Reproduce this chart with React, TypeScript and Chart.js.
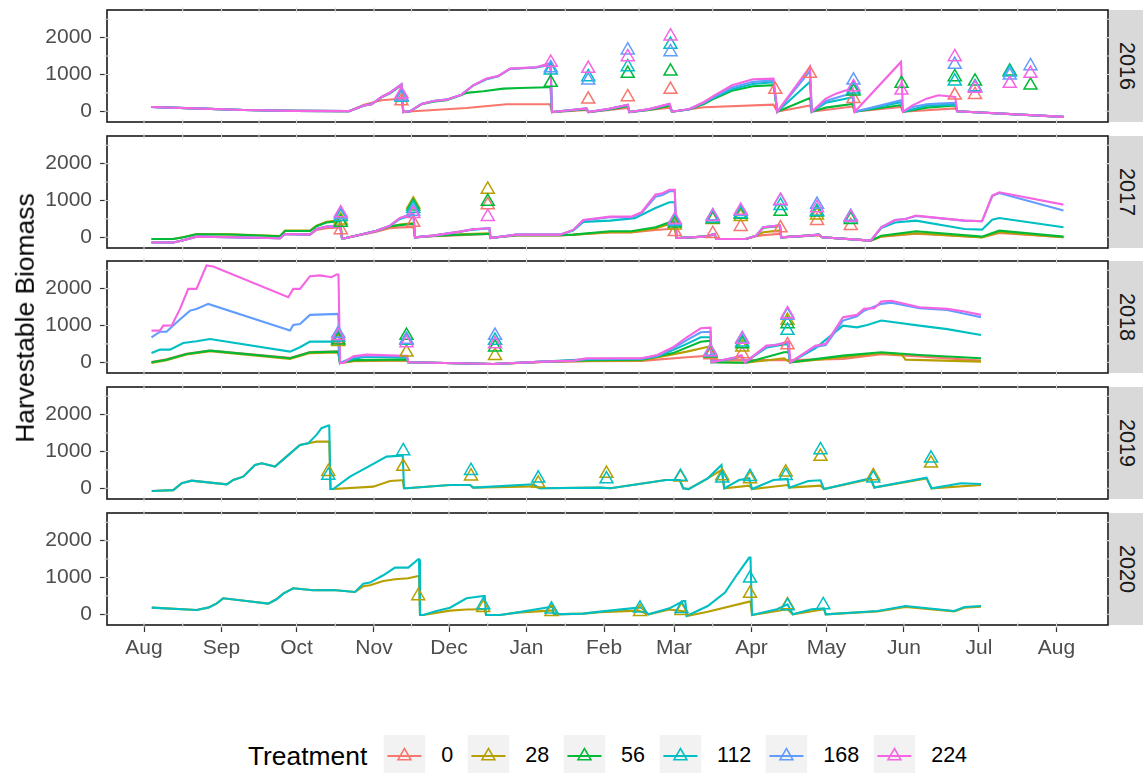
import React, { useEffect, useRef } from 'react';
import { Chart, registerables } from 'chart.js';
Chart.register(...registerables);

const FONT = '"Liberation Sans", Arial, Helvetica, sans-serif';

const treatments = ['0', '28', '56', '112', '168', '224'];
const colors = ['#F8766D', '#B79F00', '#00BA38', '#00BFC4', '#619CFF', '#F564E3'];
const years = ['2016', '2017', '2018', '2019', '2020'];
const monthDays = [0, 31, 61, 92, 122, 153, 184, 212, 243, 273, 304, 334, 365];
const monthLabels = ['Aug', 'Sep', 'Oct', 'Nov', 'Dec', 'Jan', 'Feb', 'Mar', 'Apr', 'May', 'Jun', 'Jul', 'Aug'];
const yTicks = [0, 1000, 2000];

// ---------- 2016 lines (day since Aug 1, biomass) ----------
const line2016_0 = [[3,118],[20,80],[40,35],[60,12],[82,5],[88,180],[95,300],[102.4,340],[103,360],[103.7,-20],[107.7,0],[129,90],[145,190],[162.4,190],[163.2,-20],[177,40],[177.8,-20],[193.5,90],[194.2,-20],[210.2,100],[211.2,-10],[224,110],[251.8,180],[253.3,-10],[266.4,160],[267.1,-10],[283.5,130],[284.3,-10],[302.8,120],[303.6,-10],[324.5,80],[325.3,0],[367.8,-150]];
const line2016_56 = [[3,118],[20,80],[40,35],[60,12],[82,5],[88,160],[91,190],[95,380],[98.4,490],[102.4,680],[103,700],[103.7,-20],[106.4,0],[111,190],[115.7,260],[121,300],[127,440],[129,500],[135.7,545],[143.7,616],[150.4,634],[161.7,652],[162.6,655],[163.2,-20],[170,20],[177,60],[177.8,-20],[186,50],[193.5,140],[194.2,-20],[202,40],[210.2,150],[211.2,-10],[218,50],[224,200],[228.2,350],[235.2,560],[243.5,680],[251.8,710],[253.3,-10],[266.4,362],[267.1,-10],[272.7,100],[283.5,200],[284.3,-10],[302.8,170],[303.6,-10],[313,100],[324.5,160],[325.3,0],[367.8,-150]];
const line2016_112 = [[3,118],[20,80],[40,35],[60,12],[82,5],[88,160],[91,190],[95,385],[98.4,500],[102.4,700],[103,720],[103.7,-20],[106.4,0],[111,200],[115.7,281],[121,317],[127,453],[131.7,700],[137,870],[141.7,950],[146.4,1150],[157,1190],[161.7,1250],[162.6,1255],[163.2,-20],[170,30],[177,75],[177.8,-20],[186,65],[193.5,170],[194.2,-20],[202,55],[210.2,190],[211.2,-10],[218,55],[224,230],[228.2,380],[235.2,600],[243.5,740],[251.8,790],[253.3,-10],[266.4,800],[267.1,-10],[272.7,230],[279.6,330],[283.5,380],[284.3,-10],[302.8,250],[303.6,-10],[313,150],[324.5,180],[325.3,0],[367.8,-150]];
const line2016_168 = [[3,118],[20,80],[40,35],[60,12],[82,5],[88,160],[91,190],[95,388],[98.4,505],[102.4,703],[103,730],[103.7,-20],[106.4,0],[111,200],[115.7,281],[121,317],[127,453],[131.7,705],[137,880],[141.7,955],[146.4,1155],[157,1195],[161.7,1270],[162.6,1275],[163.2,-20],[170,30],[177,78],[177.8,-20],[186,68],[193.5,175],[194.2,-20],[202,58],[210.2,200],[211.2,-10],[218,58],[224,240],[228.2,400],[235.2,650],[243.5,800],[251.8,840],[253.3,-10],[266.4,1100],[267.1,-10],[272.7,280],[279.6,420],[283.5,480],[284.3,-10],[302.8,300],[303.6,-10],[307.4,120],[313,190],[317.8,210],[324.5,230],[325.3,0],[367.8,-150]];
const line2016_224 = [[3,118],[20,80],[40,35],[60,12],[82,5],[88,160],[91,190],[95,390],[98.4,510],[102.4,706],[103,740],[103.7,-20],[106.4,0],[111,200],[115.7,281],[121,317],[127,453],[131.7,707],[137,888],[141.7,960],[146.4,1160],[157,1196],[161.7,1296],[162.6,1300],[163.2,-20],[170,30],[177,80],[177.8,-20],[186,70],[193.5,180],[194.2,-20],[202,60],[210.2,208],[211.2,-10],[218,60],[224,254],[228.2,435],[235.2,707],[243.5,870],[251.8,888],[253.3,-10],[266.4,1205],[267.1,-10],[272.7,344],[276.8,480],[279.6,544],[283.5,620],[284.3,-10],[302.8,1341],[303.6,-10],[307.4,163],[313,344],[317.8,435],[324.5,390],[325.3,0],[367.8,-150]];

// ---------- 2017 lines ----------
const line2017_0 = [[3,-140],[11.7,-140],[15.7,-80],[21,18],[35,0],[54.4,-27],[56.4,90],[66.4,72],[69,200],[73,250],[77,260],[78.5,270],[79.2,-27],[80.4,-27],[87.7,80],[93,150],[98.4,250],[102.4,270],[107,272],[107.8,275],[108.4,0],[115.7,30],[126.4,60],[137.7,90],[138.2,90],[138.6,-18],[149,50],[166.4,50],[171.7,70],[186.4,130],[194.9,130],[204.6,200],[210.2,226],[212.3,230],[213,-18],[213.7,-18],[224,18],[228.2,70],[228.9,-45],[240.7,-45],[244.9,30],[247.7,60],[253.9,90],[254.4,90],[254.9,0],[265.7,40],[269.9,60],[271.3,0],[290.7,-90],[294.9,20],[308.8,100],[335.2,0],[342.1,120],[367.8,0]];
const line2017_28 = [[3,-45],[11.7,-45],[15.7,0],[21,90],[35,80],[54.4,36],[56.4,181],[66.4,181],[69,317],[73,425],[77,453],[78.5,460],[79.2,-27],[80.4,-27],[87.7,90],[93,181],[98.4,290],[102.4,344],[107,380],[107.8,380],[108.4,0],[115.7,40],[126.4,80],[137.7,110],[138.2,110],[138.6,-18],[149,55],[166.4,55],[171.7,70],[186.4,140],[194.9,140],[204.6,240],[210.2,360],[212.3,370],[213,-18],[213.7,-18],[224,18],[228.2,80],[228.9,-45],[240.7,-45],[244.9,40],[247.7,136],[253.9,181],[254.4,181],[254.9,0],[265.7,45],[269.9,65],[271.3,0],[290.7,-90],[294.9,20],[308.8,110],[335.2,0],[342.1,140],[367.8,0]];
const line2017_56 = [[3,-45],[11.7,-45],[15.7,0],[21,85],[35,75],[54.4,30],[56.4,170],[66.4,170],[69,300],[73,400],[77,430],[78.5,440],[79.2,-27],[80.4,-27],[87.7,90],[93,181],[98.4,300],[102.4,330],[107,360],[107.8,360],[108.4,0],[115.7,40],[126.4,70],[137.7,90],[138.2,90],[138.6,-18],[149,60],[166.4,60],[171.7,72],[186.4,163],[194.9,163],[204.6,272],[210.2,408],[212.3,420],[213,-18],[213.7,-18],[224,18],[228.2,90],[228.9,-45],[240.7,-45],[244.9,45],[247.7,260],[253.9,300],[254.4,300],[254.9,0],[265.7,45],[269.9,72],[271.3,0],[290.7,-90],[294.9,45],[308.8,163],[335.2,18],[342.1,181],[367.8,18]];
const line2017_112 = [[3,-140],[11.7,-140],[15.7,-80],[21,18],[35,0],[54.4,-27],[56.4,90],[66.4,72],[69,226],[73,290],[77,290],[78.5,300],[79.2,-27],[80.4,-27],[87.7,90],[93,181],[98.4,310],[102.4,500],[107,600],[107.8,600],[108.4,0],[115.7,45],[126.4,150],[131.7,210],[137.7,240],[138.2,240],[138.6,-18],[149,72],[166.4,72],[171.7,180],[175.7,420],[186.4,453],[196.3,520],[204.6,797],[210.2,951],[212.3,951],[213,-18],[213.7,-18],[224,18],[228.2,90],[228.9,-45],[240.7,-45],[244.9,45],[247.7,272],[253.9,317],[254.4,317],[254.9,0],[265.7,45],[269.9,72],[271.3,0],[290.7,-90],[294.9,250],[300.4,400],[308.8,453],[328.2,226],[335.2,208],[339.3,480],[342.1,525],[367.8,272]];
const line2017_168 = [[3,-140],[11.7,-140],[15.7,-80],[21,18],[35,0],[54.4,-27],[56.4,90],[66.4,72],[69,226],[73,290],[77,290],[78.5,300],[79.2,-27],[80.4,-27],[87.7,90],[93,181],[98.4,317],[102.4,520],[107,625],[107.8,630],[108.4,0],[115.7,45],[126.4,154],[131.7,217],[137.7,245],[138.2,245],[138.6,-18],[149,72],[166.4,72],[171.7,200],[175.7,460],[186.4,545],[194.9,545],[199,660],[204.6,1100],[207.4,1150],[210.2,1250],[212.3,1250],[213,-18],[213.7,-18],[224,18],[228.2,90],[228.9,-45],[240.7,-45],[244.9,45],[247.7,272],[253.9,317],[254.4,317],[254.9,0],[265.7,45],[269.9,72],[271.3,0],[290.7,-90],[294.9,272],[300.4,471],[304.6,498],[308.8,580],[328.2,453],[335.2,435],[339.3,1120],[342.1,1200],[367.8,725]];
const line2017_224 = [[3,-140],[11.7,-140],[15.7,-80],[21,18],[35,0],[54.4,-27],[56.4,90],[66.4,72],[69,226],[73,290],[77,290],[78.5,300],[79.2,-27],[80.4,-27],[87.7,90],[93,181],[98.4,317],[102.4,525],[107,634],[107.8,640],[108.4,0],[115.7,45],[126.4,154],[131.7,217],[137.7,245],[138.2,245],[138.6,-18],[149,72],[166.4,72],[171.7,200],[175.7,471],[186.4,562],[194.9,562],[199,680],[204.6,1160],[207.4,1196],[210.2,1287],[212.3,1287],[213,-18],[213.7,-18],[224,18],[228.2,90],[228.9,-45],[240.7,-45],[244.9,45],[247.7,272],[253.9,317],[254.4,317],[254.9,0],[265.7,45],[269.9,72],[271.3,0],[290.7,-90],[294.9,272],[300.4,471],[304.6,498],[308.8,589],[328.2,453],[335.2,435],[339.3,1133],[342.1,1223],[367.8,888]];

// ---------- 2018 lines ----------
const line2018_0 = [[3,10],[9,80],[17,230],[26.4,320],[58.4,120],[62.4,200],[66.4,280],[77.7,300],[78.4,-20],[83.7,30],[105.2,50],[105.7,0],[139.7,-45],[159.7,10],[177,30],[199,40],[217.1,136],[226.6,181],[227.1,60],[258.5,60],[279.6,90],[294.9,217],[310.2,160],[334.8,45]];
const line2018_28 = [[3,-20],[9,60],[17,210],[26.4,300],[58.4,90],[66.4,250],[77.7,270],[78.4,-20],[83.7,40],[105.2,60],[105.7,0],[139.7,-45],[159.7,10],[177,40],[199,50],[217.1,290],[226.6,435],[227.1,0],[240.7,-10],[256,109],[258.5,0],[279.6,136],[294.9,254],[303.2,200],[304.6,72],[334.8,18]];
const line2018_56 = [[3,0],[9,72],[17,226],[26.4,317],[58.4,109],[66.4,272],[77.7,290],[78.4,-20],[83.7,60],[105.2,80],[105.7,0],[139.7,-45],[159.7,18],[177,60],[199,70],[211.6,250],[222.7,560],[226.6,589],[227.1,0],[240.7,-10],[256,272],[257.8,280],[258.5,0],[279.6,181],[294.9,272],[310.2,200],[334.8,109]];
const line2018_112 = [[3,254],[6.4,344],[10.4,344],[15.7,525],[21,571],[26.4,634],[58.4,290],[62.4,408],[66.4,562],[77.7,562],[78.4,-20],[83.7,100],[89,150],[105.2,130],[105.7,0],[139.7,-45],[159.7,18],[177,80],[199,90],[205.3,160],[211.6,330],[217.1,500],[222.7,680],[226.6,680],[227.1,0],[236.6,120],[239,160],[240.4,0],[249,400],[257.4,500],[258.5,0],[268.5,380],[279.6,997],[285.2,950],[289.3,1015],[294.9,1133],[310.2,997],[321.3,900],[334.8,743]];
const line2018_168 = [[3,680],[6.4,830],[9,830],[13.1,1087],[18.4,1404],[21,1450],[25.7,1586],[58.4,861],[59.7,1015],[62.4,1040],[66.4,1287],[77.7,1314],[78.4,-20],[83.7,140],[89,180],[105.2,160],[105.7,0],[139.7,-45],[159.7,18],[171.7,40],[177,90],[199,100],[205.3,180],[211.6,380],[217.1,600],[222.7,815],[226.6,830],[227.1,0],[236.6,130],[239,180],[240.4,0],[249,430],[257.4,540],[258.5,0],[268.5,420],[272.7,470],[279.6,1133],[285.2,1250],[288,1400],[294.9,1586],[299,1620],[310.2,1470],[321.3,1420],[334.8,1223]];
const line2018_224 = [[3,861],[6.4,861],[7.7,997],[11.1,1000],[14.4,1450],[17.7,1993],[21,1993],[25,2627],[27.7,2600],[57.7,1767],[59.7,1993],[62.4,1993],[66.4,2337],[70.4,2360],[75,2310],[77,2383],[77.8,2383],[78.4,-20],[79.7,-20],[83.7,163],[89,208],[103.7,180],[105.2,180],[105.7,0],[139.7,-45],[159.7,18],[171.7,45],[177,109],[182.4,109],[199,109],[205.3,200],[211.6,408],[217.1,680],[222.7,924],[226.6,942],[227.1,0],[236.6,136],[239,190],[240.4,0],[249,453],[253.2,471],[257.4,562],[258,562],[258.5,0],[268.5,453],[272.7,500],[279.6,1223],[285.2,1287],[288,1450],[292.1,1470],[294.9,1649],[299,1670],[310.2,1495],[321.3,1450],[328.2,1380],[334.8,1287]];

// ---------- 2019 lines ----------
const line2019_28 = [[3.1,-72],[11.7,-50],[15.1,136],[19,208],[33.1,109],[35.7,226],[39.7,317],[44.4,634],[47.1,680],[52.4,589],[57,861],[62.4,1178],[65.7,1223],[69,1268],[73.7,1268],[74.1,1270],[74.6,-20],[75.7,-20],[91.7,45],[98.4,200],[103,217],[103.5,217],[104,0],[105,0],[122.4,90],[130.4,90],[131.7,18],[155.7,54],[158.4,0],[182.4,18],[186.6,0],[208.8,226],[214.3,226],[215.7,0],[217.8,-20],[225.5,272],[231,498],[232.1,0],[242.1,72],[243.2,-20],[257.4,90],[258.1,18],[270.6,72],[272,-20],[290.7,254],[292.1,18],[313,270],[315,0],[334.8,90]];
const line2019_112 = [[3.1,-72],[11.7,-50],[15.1,136],[19,208],[33.1,109],[35.7,226],[39.7,317],[44.4,634],[47.1,680],[52.4,589],[57,861],[62.4,1178],[65.7,1223],[69,1450],[71,1631],[73.7,1703],[74.1,1703],[74.6,-20],[75.7,-20],[82.4,317],[89,562],[97,861],[103,888],[103.5,888],[104,0],[105,0],[122.4,90],[130.4,90],[131.7,18],[155.7,109],[158.4,0],[182.4,18],[186.6,0],[208.8,226],[214.3,226],[215.7,0],[217.8,-20],[225.5,272],[231,634],[232.1,0],[238,226],[242.1,272],[243.2,-20],[251.8,226],[257.4,254],[258.1,18],[265.7,200],[270.6,217],[272,-20],[290.7,272],[292.1,18],[313,290],[315,0],[326.8,136],[334.8,118]];

// ---------- 2020 lines ----------
const line2020_28 = [[3.1,181],[21,118],[25.7,181],[29,290],[31.7,435],[41,362],[49.7,290],[53,408],[55.7,562],[59.7,707],[67.7,652],[75.7,660],[84.4,607],[87.7,760],[90.4,790],[95.7,906],[100.4,951],[105.7,978],[109.7,1042],[110,1042],[110.4,-20],[111.7,-20],[122.4,100],[129,130],[135.7,136],[136.3,136],[136.8,-20],[142.4,-20],[149,45],[162.4,100],[163.4,100],[164,0],[175.7,18],[182.4,60],[197.7,100],[201.8,0],[210.2,130],[216.5,80],[217.1,-45],[225.5,72],[242.1,344],[242.6,344],[243.2,-20],[257.4,136],[259.5,0],[272,136],[272.7,0],[293.5,80],[304.6,200],[324.1,80],[328.2,180],[334.8,210]];
const line2020_112 = [[3.1,181],[21,118],[25.7,181],[29,290],[31.7,435],[41,362],[49.7,290],[53,408],[55.7,562],[59.7,707],[67.7,652],[75.7,660],[84.4,607],[87.7,833],[90.4,861],[95.7,1060],[100.4,1268],[105.7,1268],[109.7,1495],[110,1495],[110.4,-20],[111.7,-20],[117,90],[122.4,181],[129,435],[135.7,498],[136.3,498],[136.8,-20],[142.4,-20],[149,45],[162.4,200],[163.4,200],[164,0],[175.7,18],[182.4,72],[197.7,181],[199,181],[201.8,0],[210.2,163],[215.7,362],[216.5,362],[217.1,-45],[225.5,226],[232.4,589],[237.3,1087],[242.1,1540],[242.6,1540],[243.2,-20],[253.2,136],[257.4,272],[259.5,0],[267.1,136],[272,163],[272.7,0],[293.5,90],[304.6,226],[324.1,90],[328.2,200],[334.8,226]];

// ---------- harvest points ----------
const pts2016Days = [103, 162.7, 177.7, 193.5, 210.6, 252.5, 266.4, 283.8, 303, 324.3, 332.4, 346.3, 354.6];
const pts2016_0 = [280, null, 326, 390, 589, 589, 1024, 344, null, 435, 453, null, null];
const pts2016_56 = [390, 779, null, 1024, 1087, null, null, 544, 752, 933, 815, 1087, 707];
const pts2016_112 = [380, 1114, 933, 1205, 1812, null, null, 600, null, 815, 661, 1060, null];
const pts2016_168 = [400, 1178, 843, 1658, 1613, null, null, 843, null, 1268, 640, 978, 1232];
const pts2016_224 = [470, 1323, 1160, 1477, 2039, null, null, 661, 571, 1477, 620, 752, 1024];

const pts2017Days = [78.7, 107.7, 137.5, 212.3, 227.5, 238.7, 254.6, 269.2, 282.7];
const pts2017_0 = [200, 400, 880, 150, 100, 290, 250, 453, 317];
const pts2017_28 = [460, 900, 1300, 330, 480, 560, null, 600, null];
const pts2017_56 = [400, 840, 970, 380, 500, 620, 700, 680, 480];
const pts2017_112 = [560, 780, null, 420, 520, 640, 860, 700, 525];
const pts2017_168 = [610, 700, null, 450, 580, 700, 980, 888, 562];
const pts2017_224 = [660, 640, 560, 480, 560, 725, 1000, 797, 540];

const pts2018Days = [77.7, 105, 140.4, 226.6, 239.3, 257.4];
const pts2018_0 = [620, null, null, 200, 226, 471];
const pts2018_28 = [560, 272, 181, 230, 408, 1133];
const pts2018_56 = [600, 725, 408, 250, 500, 1042];
const pts2018_112 = [680, 589, 589, 260, 544, 861];
const pts2018_168 = [780, 620, 725, 300, 640, 1270];
const pts2018_224 = [720, 525, 498, 280, 616, 1314];

const pts2019Days = [73.7, 103.7, 130.8, 157.7, 185, 214.6, 231.3, 242.4, 256.7, 270.6, 291.7, 314.8];
const pts2019_28 = [450, 589, 330, 136, 400, 300, 335, 254, 435, 861, 335, 680];
const pts2019_112 = [350, 1015, 480, 272, 250, 320, 272, 317, 344, 1042, 272, 815];

const pts2020Days = [109.7, 135.7, 163, 198.4, 215, 242.4, 257.4, 271.7];
const pts2020_28 = [498, 181, 72, 72, 100, 562, 254, null];
const pts2020_112 = [null, 254, 136, 163, 150, 978, 226, 254];

// table built from the named arrays (index = treatment)
const panels: any[] = [
  { year: years[0], days: pts2016Days, lines: [line2016_0, null, line2016_56, line2016_112, line2016_168, line2016_224], pts: [pts2016_0, null, pts2016_56, pts2016_112, pts2016_168, pts2016_224] },
  { year: years[1], days: pts2017Days, lines: [line2017_0, line2017_28, line2017_56, line2017_112, line2017_168, line2017_224], pts: [pts2017_0, pts2017_28, pts2017_56, pts2017_112, pts2017_168, pts2017_224] },
  { year: years[2], days: pts2018Days, lines: [line2018_0, line2018_28, line2018_56, line2018_112, line2018_168, line2018_224], pts: [pts2018_0, pts2018_28, pts2018_56, pts2018_112, pts2018_168, pts2018_224] },
  { year: years[3], days: pts2019Days, lines: [null, line2019_28, null, line2019_112, null, null], pts: [null, pts2019_28, null, pts2019_112, null, null] },
  { year: years[4], days: pts2020Days, lines: [null, line2020_28, null, line2020_112, null, null], pts: [null, pts2020_28, null, pts2020_112, null, null] },
];

const PANEL_TOP = [10, 136, 261, 387, 513];
const PANEL_H = 112;
const PAD = 5;
const XAXIS_H = 45;
const LEFT = 107;
const RIGHT = 1108;
const W = 1143;

const xMinorGrid: number[] = [];
for (let i = 0; i < monthDays.length; i++) {
  xMinorGrid.push(monthDays[i]);
  if (i < monthDays.length - 1) xMinorGrid.push((monthDays[i] + monthDays[i + 1]) / 2);
}
const yMinorGrid = [0, 500, 1000, 1500, 2000, 2500];

const panelFrame = {
  id: 'panelFrame',
  afterDatasetsDraw(chart: any) {
    const { ctx, chartArea } = chart;
    const { left, right, top, bottom } = chartArea;
    const xs = chart.scales.x;
    const ys = chart.scales.y;
    ctx.save();
    ctx.strokeStyle = '#1a1a1a';
    ctx.lineWidth = 1.6;
    ctx.strokeRect(left, top, right - left, bottom - top);
    ctx.strokeStyle = '#d6d6d6';
    ctx.lineWidth = 1.1;
    ctx.beginPath();
    for (const d of xMinorGrid) {
      const px = xs.getPixelForValue(d);
      if (px <= left + 2 || px >= right - 2) continue;
      ctx.moveTo(px, top - 2.5); ctx.lineTo(px, top + 2.5);
      ctx.moveTo(px, bottom - 2.5); ctx.lineTo(px, bottom + 2.5);
    }
    for (const v of yMinorGrid) {
      const py = ys.getPixelForValue(v);
      if (py <= top + 2 || py >= bottom - 2) continue;
      ctx.moveTo(left - 2.5, py); ctx.lineTo(left + 2.5, py);
      ctx.moveTo(right - 2.5, py); ctx.lineTo(right + 2.5, py);
    }
    ctx.stroke();
    ctx.restore();
  },
};

function buildConfig(p: any, isLast: boolean): any {
  const datasets: any[] = [];
  p.lines.forEach((arr: any, k: number) => {
    if (!arr) return;
    datasets.push({
      type: 'line',
      data: arr.map((q: number[]) => ({ x: q[0], y: q[1] })),
      borderColor: colors[k],
      borderWidth: 2.1,
      pointRadius: 0,
      fill: false,
      tension: 0,
      order: 30 - k,
    });
  });
  p.pts.forEach((vals: any, k: number) => {
    if (!vals) return;
    const data: any[] = [];
    vals.forEach((v: number | null, j: number) => { if (v !== null) data.push({ x: p.days[j], y: v }); });
    datasets.push({
      type: 'line',
      data,
      showLine: false,
      borderColor: colors[k],
      pointStyle: 'triangle',
      pointRadius: 7.5,
      pointBorderWidth: 1.5,
      pointBorderColor: colors[k],
      pointBackgroundColor: 'rgba(0,0,0,0)',
      order: 10 - k,
    });
  });
  const tickFont = { family: FONT, size: 21 };
  return {
    type: 'line',
    data: { datasets },
    options: {
      animation: false,
      responsive: false,
      devicePixelRatio: 1,
      events: [],
      layout: { padding: { left: 0, right: W - RIGHT, top: PAD, bottom: isLast ? 0 : PAD }, autoPadding: false },
      plugins: { legend: { display: false }, tooltip: { enabled: false }, title: { display: false } },
      scales: {
        x: {
          type: 'linear',
          min: -14.8,
          max: 385.6,
          display: isLast,
          afterBuildTicks: (s: any) => { s.ticks = monthDays.map((v) => ({ value: v })); },
          afterFit: (s: any) => { if (isLast) { s.height = XAXIS_H; } s.paddingLeft = 0; s.paddingRight = 0; },
          ticks: {
            autoSkip: false, maxRotation: 0, minRotation: 0, padding: 4,
            color: '#4D4D4D', font: tickFont,
            callback: (_v: any, i: number) => monthLabels[i],
          },
          grid: { display: true, drawOnChartArea: false, drawTicks: true, tickLength: 7, tickColor: '#333333', tickWidth: 1.2 },
          border: { display: false },
        },
        y: {
          type: 'linear',
          min: -290,
          max: 2750,
          afterBuildTicks: (s: any) => { s.ticks = yTicks.map((v) => ({ value: v })); },
          afterFit: (s: any) => { s.width = LEFT; s.paddingTop = 0; s.paddingBottom = 0; },
          ticks: { padding: 8, color: '#4D4D4D', font: tickFont, callback: (v: any) => String(v) },
          grid: { display: true, drawOnChartArea: false, drawTicks: true, tickLength: 7, tickColor: '#333333', tickWidth: 1.2 },
          border: { display: false },
        },
      },
    },
    plugins: [panelFrame],
  };
}

function LegendKey({ color }: { color: string }) {
  return (
    <svg width={42} height={42} style={{ display: 'block' }}>
      <rect x={0} y={0} width={42} height={42} fill="#F2F2F2" />
      <line x1={4} y1={21} x2={38} y2={21} stroke={color} strokeWidth={2.1} />
      <polygon points="21,13.5 27.5,24.75 14.5,24.75" fill="none" stroke={color} strokeWidth={1.5} />
    </svg>
  );
}

export default function App() {
  const refs = useRef<(HTMLCanvasElement | null)[]>([]);
  useEffect(() => {
    const charts = panels.map((p, i) => new Chart(refs.current[i] as HTMLCanvasElement, buildConfig(p, i === panels.length - 1)));
    return () => { charts.forEach((c) => c.destroy()); };
  }, []);

  return (
    <div style={{ position: 'absolute', left: 0, top: 0, width: W, height: 773, overflow: 'hidden', background: '#ffffff', fontFamily: FONT }}>
      {panels.map((p, i) => {
        const isLast = i === panels.length - 1;
        const h = PAD + PANEL_H + (isLast ? XAXIS_H : PAD);
        return (
          <React.Fragment key={p.year}>
            <canvas
              ref={(el) => { refs.current[i] = el; }}
              width={W}
              height={h}
              style={{ position: 'absolute', left: 0, top: PANEL_TOP[i] - PAD, width: W, height: h }}
            />
            <div style={{ position: 'absolute', left: RIGHT + 1, top: PANEL_TOP[i], width: W - RIGHT - 1, height: PANEL_H, background: '#D9D9D9' }}>
              <span style={{ position: 'absolute', left: '50%', top: '50%', transform: 'translate(-50%,-50%) rotate(90deg)', fontSize: 21.5, color: '#1A1A1A', whiteSpace: 'nowrap', lineHeight: 1 }}>{p.year}</span>
            </div>
          </React.Fragment>
        );
      })}
      <span style={{ position: 'absolute', left: 25, top: 318, transform: 'translate(-50%,-50%) rotate(-90deg)', fontSize: 26.4, color: '#000', whiteSpace: 'nowrap', lineHeight: 1 }}>Harvestable Biomass</span>
      <div style={{ position: 'absolute', top: 735, left: 607.5, transform: 'translateX(-50%)', display: 'flex', alignItems: 'center', height: 42, whiteSpace: 'nowrap' }}>
        <span style={{ fontSize: 26.4, color: '#000', marginRight: 16, lineHeight: 1 }}>Treatment</span>
        {treatments.map((t, k) => (
          <React.Fragment key={t}>
            <LegendKey color={colors[k]} />
            <span style={{ fontSize: 21.5, color: '#000', marginLeft: 16, marginRight: k < treatments.length - 1 ? 14 : 0, lineHeight: 1 }}>{t}</span>
          </React.Fragment>
        ))}
      </div>
    </div>
  );
}
